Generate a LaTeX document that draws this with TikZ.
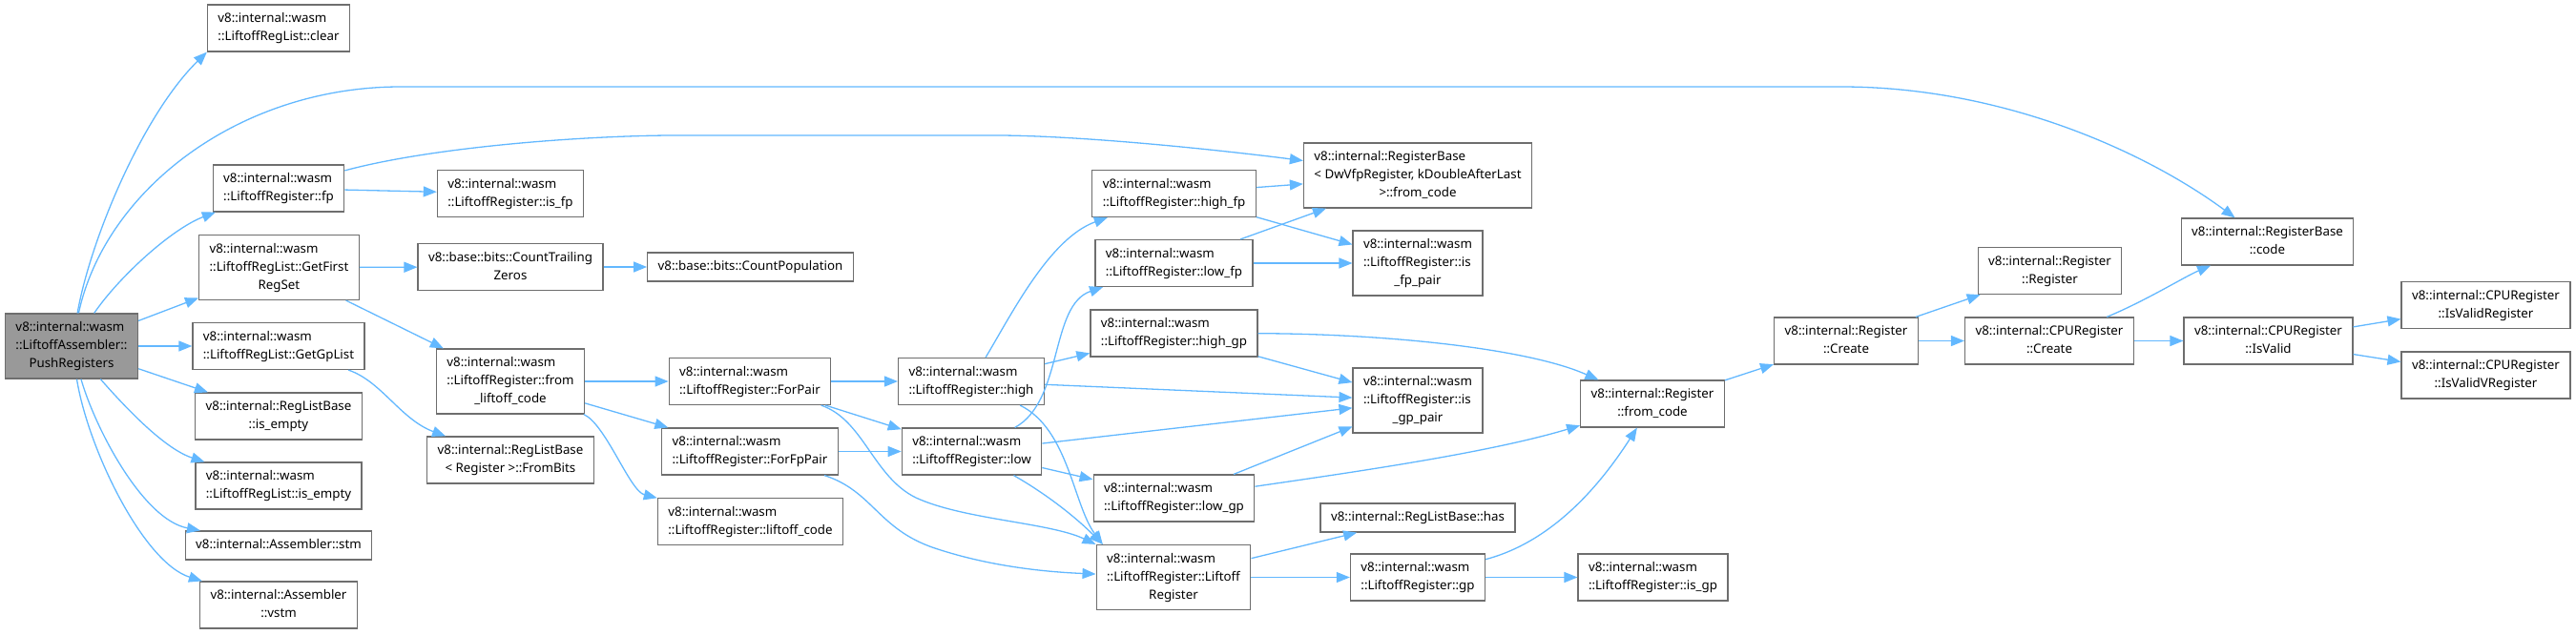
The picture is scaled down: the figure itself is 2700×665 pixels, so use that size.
\documentclass[tikz,border=0pt]{standalone}
\usepackage{fontspec}
\setmainfont{Noto Sans}
\usepackage{tikz}
\usetikzlibrary{arrows.meta}
\definecolor{callline}{RGB}{99,184,255}
\definecolor{boxline}{RGB}{110,110,110}
\definecolor{rootbg}{RGB}{153,153,153}
\newcommand{\graphfont}{\fontsize{13.3}{19}\selectfont}
\newcommand{\fn}[2]{\begin{tabular}{@{}l@{}}#1\\\multicolumn{1}{@{}c@{}}{#2}\end{tabular}}
\newcommand{\fnone}[1]{\begin{tabular}{@{}c@{}}#1\end{tabular}}
\tikzset{
  fnbox/.style={draw=boxline, fill=white, line width=1.2pt,
    inner xsep=11pt, inner ysep=5.5pt, font=\graphfont},
  rootbox/.style={fnbox, fill=rootbg},
  callarrow/.style={-{Triangle[length=14pt,width=11pt]}, draw=callline,
    line width=1.3pt}
}

\begin{document}
\begin{tikzpicture}[x=1pt,y=-1pt]
  \useasboundingbox (0,0) rectangle (2700,665);

  \node[rootbox] (push) at (75,363)
    {\fn{v8::internal::wasm\\::LiftoffAssembler::}{PushRegisters}};

  \node[fnbox] (clear) at (292,29.5) {\fn{v8::internal::wasm}{::LiftoffRegList::clear}};
  \node[fnbox] (fp) at (292,197.5) {\fn{v8::internal::wasm}{::LiftoffRegister::fp}};
  \node[fnbox] (getfirst) at (292.5,280.5)
    {\fn{v8::internal::wasm\\::LiftoffRegList::GetFirst}{RegSet}};
  \node[fnbox] (getgp) at (292,363) {\fn{v8::internal::wasm}{::LiftoffRegList::GetGpList}};
  \node[fnbox] (rlbempty) at (292,436.5) {\fn{v8::internal::RegListBase}{::is\_empty}};
  \node[fnbox] (lrlempty) at (292,509.5) {\fn{v8::internal::wasm}{::LiftoffRegList::is\_empty}};
  \node[fnbox] (stm) at (292,572) {\fnone{v8::internal::Assembler::stm}};
  \node[fnbox] (vstm) at (292,634.5) {\fn{v8::internal::Assembler}{::vstm}};

  \node[fnbox] (isfp) at (535,203) {\fn{v8::internal::wasm}{::LiftoffRegister::is\_fp}};
  \node[fnbox] (ctz) at (535,280) {\fn{v8::base::bits::CountTrailing}{Zeros}};
  \node[fnbox] (fromlc) at (535,400)
    {\fn{v8::internal::wasm\\::LiftoffRegister::from}{\_liftoff\_code}};
  \node[fnbox] (frombits) at (535,482.5)
    {\fn{v8::internal::RegListBase}{< Register >::FromBits}};

  \node[fnbox] (popcnt) at (786.5,280) {\fnone{v8::base::bits::CountPopulation}};
  \node[fnbox] (forpair) at (786,400) {\fn{v8::internal::wasm}{::LiftoffRegister::ForPair}};
  \node[fnbox] (forfppair) at (786,473.5) {\fn{v8::internal::wasm}{::LiftoffRegister::ForFpPair}};
  \node[fnbox] (lcode) at (786.5,547) {\fn{v8::internal::wasm}{::LiftoffRegister::liftoff\_code}};

  \node[fnbox] (high) at (1018,400) {\fn{v8::internal::wasm}{::LiftoffRegister::high}};
  \node[fnbox] (low) at (1018.5,473.5) {\fn{v8::internal::wasm}{::LiftoffRegister::low}};

  \node[fnbox] (highfp) at (1230.5,203) {\fn{v8::internal::wasm}{::LiftoffRegister::high\_fp}};
  \node[fnbox] (lowfp) at (1230.5,276) {\fn{v8::internal::wasm}{::LiftoffRegister::low\_fp}};
  \node[fnbox] (highgp) at (1230.5,349.5) {\fn{v8::internal::wasm}{::LiftoffRegister::high\_gp}};
  \node[fnbox] (lowgp) at (1230.5,522.5) {\fn{v8::internal::wasm}{::LiftoffRegister::low\_gp}};
  \node[fnbox] (ctor) at (1230,605.5)
    {\fn{v8::internal::wasm\\::LiftoffRegister::Liftoff}{Register}};

  \node[fnbox] (dwfrom) at (1486,184)
    {\fn{v8::internal::RegisterBase\\< DwVfpRegister, kDoubleAfterLast}{>::from\_code}};
  \node[fnbox] (isfppair) at (1486,276)
    {\fn{v8::internal::wasm\\::LiftoffRegister::is}{\_fp\_pair}};
  \node[fnbox] (isgppair) at (1486,420)
    {\fn{v8::internal::wasm\\::LiftoffRegister::is}{\_gp\_pair}};
  \node[fnbox] (has) at (1486,543) {\fnone{v8::internal::RegListBase::has}};
  \node[fnbox] (gp) at (1486,605.5) {\fn{v8::internal::wasm}{::LiftoffRegister::gp}};

  \node[fnbox] (regfrom) at (1732,423.5) {\fn{v8::internal::Register}{::from\_code}};
  \node[fnbox] (isgp) at (1732.5,605.5) {\fn{v8::internal::wasm}{::LiftoffRegister::is\_gp}};

  \node[fnbox] (regcreate) at (1935,357.5) {\fn{v8::internal::Register}{::Create}};
  \node[fnbox] (regreg) at (2148.5,284) {\fn{v8::internal::Register}{::Register}};
  \node[fnbox] (cpucreate) at (2148,357.5) {\fn{v8::internal::CPURegister}{::Create}};
  \node[fnbox] (code) at (2376.5,253.5) {\fn{v8::internal::RegisterBase}{::code}};
  \node[fnbox] (isvalid) at (2377.5,357.5) {\fn{v8::internal::CPURegister}{::IsValid}};
  \node[fnbox] (isvalidreg) at (2605.5,320) {\fn{v8::internal::CPURegister}{::IsValidRegister}};
  \node[fnbox] (isvalidv) at (2605.5,393.5) {\fn{v8::internal::CPURegister}{::IsValidVRegister}};

  % calls of PushRegisters
  \draw[callarrow] (push) .. controls (95,250) and (150,120) .. (clear.south west);
  \draw[callarrow] (push) .. controls (110,200) and (250,91) .. (420,91)
    -- (1930,91) .. controls (2100,91) and (2250,160) .. (code);
  \draw[callarrow] (push) .. controls (125,290) and (180,240) .. (fp);
  \draw[callarrow] (push) -- (getfirst);
  \draw[callarrow] (push) -- (getgp);
  \draw[callarrow] (push) -- (rlbempty);
  \draw[callarrow] (push) .. controls (125,420) and (170,470) .. (lrlempty);
  \draw[callarrow] (push) .. controls (100,450) and (150,545) .. (stm);
  \draw[callarrow] (push) .. controls (92,470) and (150,590) .. (vstm);

  \draw[callarrow] (fp) -- (isfp);
  \draw[callarrow] (fp) .. controls (450,155) and (600,143) .. (700,142)
    -- (1050,142) .. controls (1150,143) and (1300,160) .. (dwfrom);
  \draw[callarrow] (getfirst) -- (ctz);
  \draw[callarrow] (getfirst) -- (fromlc);
  \draw[callarrow] (ctz) -- (popcnt);
  \draw[callarrow] (getgp) .. controls (400,400) and (420,440) .. (frombits);

  \draw[callarrow] (fromlc) -- (forpair);
  \draw[callarrow] (fromlc) -- (forfppair);
  \draw[callarrow] (fromlc) .. controls (635,445) and (660,515) .. (lcode);

  \draw[callarrow] (forpair) -- (high);
  \draw[callarrow] (forpair) -- (low);
  \draw[callarrow] (forpair) .. controls (905,440) and (915,500) .. (960,522)
    .. controls (1010,545) and (1100,548) .. (ctor.north west);
  \draw[callarrow] (forfppair) -- (low);
  \draw[callarrow] (forfppair) .. controls (915,515) and (920,555) .. (980,575)
    .. controls (1040,595) and (1100,600) .. (ctor);

  \draw[callarrow] (high) .. controls (1060,330) and (1100,250) .. (highfp);
  \draw[callarrow] (high) -- (highgp);
  \draw[callarrow] (high) -- (isgppair);
  \draw[callarrow] (high) .. controls (1120,450) and (1125,530) .. (ctor.155);
  \draw[callarrow] (low) .. controls (1115,420) and (1100,320) .. (lowfp);
  \draw[callarrow] (low) -- (isgppair);
  \draw[callarrow] (low) -- (lowgp);
  \draw[callarrow] (low) .. controls (1100,520) and (1130,545) .. (ctor.155);

  \draw[callarrow] (highfp) -- (dwfrom);
  \draw[callarrow] (highfp) -- (isfppair);
  \draw[callarrow] (lowfp) -- (dwfrom);
  \draw[callarrow] (lowfp) -- (isfppair);
  \draw[callarrow] (highgp) .. controls (1450,350) and (1600,365) .. (regfrom);
  \draw[callarrow] (highgp) -- (isgppair);
  \draw[callarrow] (lowgp) -- (isgppair);
  \draw[callarrow] (lowgp) .. controls (1420,495) and (1560,475) .. (regfrom);

  \draw[callarrow] (ctor) -- (has);
  \draw[callarrow] (ctor) -- (gp);
  \draw[callarrow] (gp) .. controls (1620,570) and (1670,520) .. (regfrom);
  \draw[callarrow] (gp) -- (isgp);

  \draw[callarrow] (regfrom) -- (regcreate);
  \draw[callarrow] (regcreate) -- (regreg);
  \draw[callarrow] (regcreate) -- (cpucreate);
  \draw[callarrow] (cpucreate) .. controls (2250,315) and (2290,290) .. (code);
  \draw[callarrow] (cpucreate) -- (isvalid);
  \draw[callarrow] (isvalid) -- (isvalidreg);
  \draw[callarrow] (isvalid) -- (isvalidv);
\end{tikzpicture}
\end{document}
